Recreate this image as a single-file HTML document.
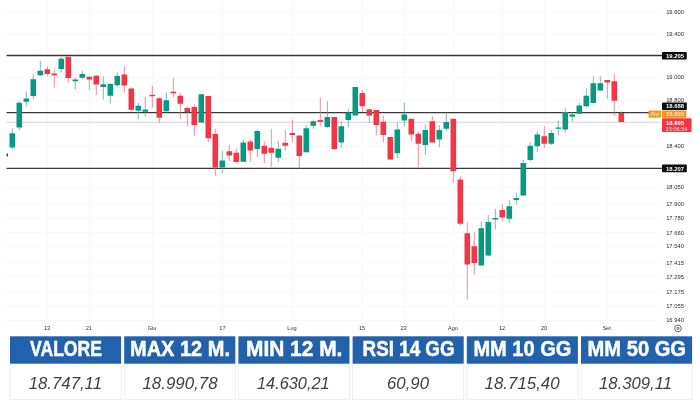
<!DOCTYPE html><html><head><meta charset="utf-8"><title>Chart</title>
<style>html,body{margin:0;padding:0;background:#fff;}body{width:700px;height:400px;overflow:hidden;}svg{display:block;}text{font-family:"Liberation Sans",sans-serif;}</style></head><body>
<svg width="700" height="400" viewBox="0 0 700 400">
<rect width="700" height="400" fill="#ffffff"/>
<g stroke="#f8f8f8" stroke-width="1" shape-rendering="crispEdges">
<line x1="47" y1="0" x2="47" y2="322"/>
<line x1="89" y1="0" x2="89" y2="322"/>
<line x1="152" y1="0" x2="152" y2="322"/>
<line x1="222" y1="0" x2="222" y2="322"/>
<line x1="292" y1="0" x2="292" y2="322"/>
<line x1="362" y1="0" x2="362" y2="322"/>
<line x1="404" y1="0" x2="404" y2="322"/>
<line x1="453" y1="0" x2="453" y2="322"/>
<line x1="502" y1="0" x2="502" y2="322"/>
<line x1="544" y1="0" x2="544" y2="322"/>
<line x1="607" y1="0" x2="607" y2="322"/>
<line x1="6" y1="12" x2="660" y2="12"/>
<line x1="6" y1="34" x2="660" y2="34"/>
<line x1="6" y1="77" x2="660" y2="77"/>
<line x1="6" y1="100" x2="660" y2="100"/>
<line x1="6" y1="146" x2="660" y2="146"/>
<line x1="6" y1="187" x2="660" y2="187"/>
<line x1="6" y1="204" x2="660" y2="204"/>
<line x1="6" y1="218" x2="660" y2="218"/>
<line x1="6" y1="232" x2="660" y2="232"/>
<line x1="6" y1="246" x2="660" y2="246"/>
<line x1="6" y1="262" x2="660" y2="262"/>
<line x1="6" y1="276.5" x2="660" y2="276.5"/>
<line x1="6" y1="291.5" x2="660" y2="291.5"/>
<line x1="6" y1="306" x2="660" y2="306"/>
<line x1="6" y1="320" x2="660" y2="320"/>
</g>
<line x1="6.5" y1="122.2" x2="661" y2="122.2" stroke="#d6cdcf" stroke-width="1"/>
<g stroke="#383838" stroke-width="1.3">
<line x1="6.5" y1="55.5" x2="662" y2="55.5"/>
<line x1="6.5" y1="112.7" x2="649" y2="112.7"/>
<line x1="6.5" y1="168.3" x2="662" y2="168.3"/>
</g>
<g>
<rect x="6.5" y="153.5" width="1.5" height="3" fill="#1d5c50"/>
<rect x="11.80" y="128.25" width="1" height="21.00" fill="#4e9a8c" opacity="0.7"/>
<rect x="9.50" y="133.25" width="5.6" height="14.25" fill="#089981"/>
<rect x="18.80" y="101.25" width="1" height="28.75" fill="#4e9a8c" opacity="0.7"/>
<rect x="16.50" y="102.75" width="5.6" height="24.75" fill="#089981"/>
<rect x="25.80" y="91.25" width="1" height="15.00" fill="#4e9a8c" opacity="0.7"/>
<rect x="23.50" y="98.50" width="5.6" height="3.25" fill="#089981"/>
<rect x="32.80" y="74.25" width="1" height="25.00" fill="#4e9a8c" opacity="0.7"/>
<rect x="30.50" y="79.25" width="5.6" height="16.75" fill="#089981"/>
<rect x="39.80" y="60.75" width="1" height="15.50" fill="#4e9a8c" opacity="0.7"/>
<rect x="37.50" y="70.75" width="5.6" height="4.50" fill="#089981"/>
<rect x="46.80" y="66.50" width="1" height="9.75" fill="#e8616d" opacity="0.7"/>
<rect x="44.50" y="69.25" width="5.6" height="4.75" fill="#f23645"/>
<rect x="53.80" y="69.50" width="1" height="18.00" fill="#e8616d" opacity="0.7"/>
<rect x="51.50" y="73.50" width="5.6" height="1.75" fill="#f23645"/>
<rect x="60.80" y="57.00" width="1" height="15.50" fill="#4e9a8c" opacity="0.7"/>
<rect x="58.50" y="58.75" width="5.6" height="10.25" fill="#089981"/>
<rect x="67.80" y="56.75" width="1" height="25.75" fill="#e8616d" opacity="0.7"/>
<rect x="65.50" y="56.75" width="5.6" height="21.25" fill="#f23645"/>
<rect x="74.80" y="77.50" width="1" height="12.00" fill="#4e9a8c" opacity="0.7"/>
<rect x="72.50" y="79.50" width="5.6" height="1.75" fill="#089981"/>
<rect x="81.80" y="70.75" width="1" height="8.00" fill="#4e9a8c" opacity="0.7"/>
<rect x="79.50" y="74.00" width="5.6" height="3.75" fill="#089981"/>
<rect x="88.80" y="76.75" width="1" height="13.25" fill="#e8616d" opacity="0.7"/>
<rect x="86.50" y="76.75" width="5.6" height="2.75" fill="#f23645"/>
<rect x="95.80" y="75.00" width="1" height="20.00" fill="#e8616d" opacity="0.7"/>
<rect x="93.50" y="75.75" width="5.6" height="8.75" fill="#f23645"/>
<rect x="102.80" y="76.25" width="1" height="23.25" fill="#4e9a8c" opacity="0.7"/>
<rect x="100.50" y="84.25" width="5.6" height="2.75" fill="#089981"/>
<rect x="109.80" y="83.00" width="1" height="20.75" fill="#4e9a8c" opacity="0.7"/>
<rect x="107.50" y="84.00" width="5.6" height="11.75" fill="#089981"/>
<rect x="116.80" y="72.50" width="1" height="14.50" fill="#4e9a8c" opacity="0.7"/>
<rect x="114.50" y="76.00" width="5.6" height="9.25" fill="#089981"/>
<rect x="123.80" y="66.25" width="1" height="26.25" fill="#e8616d" opacity="0.7"/>
<rect x="121.50" y="74.50" width="5.6" height="11.00" fill="#f23645"/>
<rect x="130.80" y="87.50" width="1" height="23.75" fill="#e8616d" opacity="0.7"/>
<rect x="128.50" y="88.50" width="5.6" height="21.25" fill="#f23645"/>
<rect x="137.80" y="103.00" width="1" height="16.50" fill="#4e9a8c" opacity="0.7"/>
<rect x="135.50" y="105.75" width="5.6" height="5.00" fill="#089981"/>
<rect x="144.80" y="96.75" width="1" height="19.50" fill="#4e9a8c" opacity="0.7"/>
<rect x="142.50" y="109.50" width="5.6" height="2.25" fill="#089981"/>
<rect x="151.80" y="85.75" width="1" height="21.75" fill="#e8616d" opacity="0.7"/>
<rect x="149.50" y="94.75" width="5.6" height="1.50" fill="#f23645"/>
<rect x="158.80" y="97.50" width="1" height="25.75" fill="#e8616d" opacity="0.7"/>
<rect x="156.50" y="98.25" width="5.6" height="19.50" fill="#f23645"/>
<rect x="165.80" y="92.50" width="1" height="20.00" fill="#4e9a8c" opacity="0.7"/>
<rect x="163.50" y="100.25" width="5.6" height="11.00" fill="#089981"/>
<rect x="172.80" y="77.50" width="1" height="20.00" fill="#e8616d" opacity="0.7"/>
<rect x="170.50" y="91.75" width="5.6" height="1.50" fill="#f23645"/>
<rect x="179.80" y="92.50" width="1" height="26.25" fill="#e8616d" opacity="0.7"/>
<rect x="177.50" y="95.75" width="5.6" height="8.00" fill="#f23645"/>
<rect x="186.80" y="106.25" width="1" height="20.00" fill="#e8616d" opacity="0.7"/>
<rect x="184.50" y="108.00" width="5.6" height="4.00" fill="#f23645"/>
<rect x="193.80" y="104.50" width="1" height="31.00" fill="#e8616d" opacity="0.7"/>
<rect x="191.50" y="107.00" width="5.6" height="18.00" fill="#f23645"/>
<rect x="200.80" y="94.25" width="1" height="28.25" fill="#4e9a8c" opacity="0.7"/>
<rect x="198.50" y="94.25" width="5.6" height="28.25" fill="#089981"/>
<rect x="207.80" y="96.00" width="1" height="46.00" fill="#e8616d" opacity="0.7"/>
<rect x="205.50" y="96.00" width="5.6" height="42.25" fill="#f23645"/>
<rect x="214.80" y="128.75" width="1" height="47.00" fill="#e8616d" opacity="0.7"/>
<rect x="212.50" y="134.00" width="5.6" height="33.50" fill="#f23645"/>
<rect x="221.80" y="150.75" width="1" height="22.25" fill="#4e9a8c" opacity="0.7"/>
<rect x="219.50" y="160.50" width="5.6" height="7.00" fill="#089981"/>
<rect x="228.80" y="144.50" width="1" height="16.75" fill="#e8616d" opacity="0.7"/>
<rect x="226.50" y="151.25" width="5.6" height="4.25" fill="#f23645"/>
<rect x="235.80" y="148.75" width="1" height="15.00" fill="#e8616d" opacity="0.7"/>
<rect x="233.50" y="152.75" width="5.6" height="9.25" fill="#f23645"/>
<rect x="242.80" y="140.00" width="1" height="21.75" fill="#4e9a8c" opacity="0.7"/>
<rect x="240.50" y="142.50" width="5.6" height="19.25" fill="#089981"/>
<rect x="249.80" y="140.00" width="1" height="21.25" fill="#e8616d" opacity="0.7"/>
<rect x="247.50" y="141.50" width="5.6" height="9.00" fill="#f23645"/>
<rect x="256.80" y="129.50" width="1" height="27.50" fill="#4e9a8c" opacity="0.7"/>
<rect x="254.50" y="131.00" width="5.6" height="18.00" fill="#089981"/>
<rect x="263.80" y="141.25" width="1" height="22.00" fill="#e8616d" opacity="0.7"/>
<rect x="261.50" y="145.75" width="5.6" height="8.00" fill="#f23645"/>
<rect x="270.80" y="128.75" width="1" height="38.25" fill="#e8616d" opacity="0.7"/>
<rect x="268.50" y="147.75" width="5.6" height="5.00" fill="#f23645"/>
<rect x="277.80" y="141.25" width="1" height="20.75" fill="#4e9a8c" opacity="0.7"/>
<rect x="275.50" y="148.75" width="5.6" height="9.00" fill="#089981"/>
<rect x="284.80" y="130.00" width="1" height="20.75" fill="#e8616d" opacity="0.7"/>
<rect x="282.50" y="142.75" width="5.6" height="3.00" fill="#f23645"/>
<rect x="291.80" y="119.50" width="1" height="22.50" fill="#e8616d" opacity="0.7"/>
<rect x="289.50" y="133.00" width="5.6" height="2.00" fill="#f23645"/>
<rect x="298.80" y="135.50" width="1" height="33.25" fill="#e8616d" opacity="0.7"/>
<rect x="296.50" y="135.50" width="5.6" height="20.50" fill="#f23645"/>
<rect x="305.80" y="125.00" width="1" height="27.25" fill="#4e9a8c" opacity="0.7"/>
<rect x="303.50" y="128.25" width="5.6" height="24.00" fill="#089981"/>
<rect x="312.80" y="119.50" width="1" height="9.25" fill="#4e9a8c" opacity="0.7"/>
<rect x="310.50" y="121.25" width="5.6" height="4.50" fill="#089981"/>
<rect x="319.80" y="97.50" width="1" height="28.75" fill="#e8616d" opacity="0.7"/>
<rect x="317.50" y="120.00" width="5.6" height="1.75" fill="#f23645"/>
<rect x="326.80" y="101.25" width="1" height="26.75" fill="#4e9a8c" opacity="0.7"/>
<rect x="324.50" y="117.00" width="5.6" height="10.00" fill="#089981"/>
<rect x="333.80" y="117.00" width="1" height="33.00" fill="#e8616d" opacity="0.7"/>
<rect x="331.50" y="117.00" width="5.6" height="32.00" fill="#f23645"/>
<rect x="340.80" y="121.25" width="1" height="26.75" fill="#4e9a8c" opacity="0.7"/>
<rect x="338.50" y="126.25" width="5.6" height="16.25" fill="#089981"/>
<rect x="347.80" y="108.75" width="1" height="18.75" fill="#4e9a8c" opacity="0.7"/>
<rect x="345.50" y="112.50" width="5.6" height="7.50" fill="#089981"/>
<rect x="354.80" y="87.00" width="1" height="28.50" fill="#4e9a8c" opacity="0.7"/>
<rect x="352.50" y="87.00" width="5.6" height="28.50" fill="#089981"/>
<rect x="361.80" y="90.00" width="1" height="22.00" fill="#e8616d" opacity="0.7"/>
<rect x="359.50" y="93.00" width="5.6" height="13.25" fill="#f23645"/>
<rect x="368.80" y="109.25" width="1" height="13.75" fill="#e8616d" opacity="0.7"/>
<rect x="366.50" y="109.25" width="5.6" height="6.25" fill="#f23645"/>
<rect x="375.80" y="110.00" width="1" height="25.50" fill="#e8616d" opacity="0.7"/>
<rect x="373.50" y="110.00" width="5.6" height="15.00" fill="#f23645"/>
<rect x="382.80" y="115.75" width="1" height="26.75" fill="#e8616d" opacity="0.7"/>
<rect x="380.50" y="121.75" width="5.6" height="13.25" fill="#f23645"/>
<rect x="389.80" y="137.00" width="1" height="22.50" fill="#e8616d" opacity="0.7"/>
<rect x="387.50" y="137.00" width="5.6" height="22.50" fill="#f23645"/>
<rect x="396.80" y="122.50" width="1" height="35.50" fill="#4e9a8c" opacity="0.7"/>
<rect x="394.50" y="129.50" width="5.6" height="23.75" fill="#089981"/>
<rect x="403.80" y="102.50" width="1" height="23.75" fill="#4e9a8c" opacity="0.7"/>
<rect x="401.50" y="114.50" width="5.6" height="6.00" fill="#089981"/>
<rect x="410.80" y="118.75" width="1" height="22.50" fill="#e8616d" opacity="0.7"/>
<rect x="408.50" y="118.75" width="5.6" height="15.75" fill="#f23645"/>
<rect x="417.80" y="131.25" width="1" height="36.25" fill="#e8616d" opacity="0.7"/>
<rect x="415.50" y="133.75" width="5.6" height="10.00" fill="#f23645"/>
<rect x="424.80" y="124.50" width="1" height="30.50" fill="#4e9a8c" opacity="0.7"/>
<rect x="422.50" y="130.00" width="5.6" height="15.00" fill="#089981"/>
<rect x="431.80" y="116.25" width="1" height="26.25" fill="#e8616d" opacity="0.7"/>
<rect x="429.50" y="121.25" width="5.6" height="21.25" fill="#f23645"/>
<rect x="438.80" y="125.00" width="1" height="22.50" fill="#4e9a8c" opacity="0.7"/>
<rect x="436.50" y="130.00" width="5.6" height="9.50" fill="#089981"/>
<rect x="445.80" y="112.50" width="1" height="18.75" fill="#4e9a8c" opacity="0.7"/>
<rect x="443.50" y="122.00" width="5.6" height="6.75" fill="#089981"/>
<rect x="452.80" y="118.75" width="1" height="63.75" fill="#e8616d" opacity="0.7"/>
<rect x="450.50" y="118.75" width="5.6" height="52.50" fill="#f23645"/>
<rect x="459.80" y="176.25" width="1" height="49.25" fill="#e8616d" opacity="0.7"/>
<rect x="457.50" y="179.50" width="5.6" height="44.25" fill="#f23645"/>
<rect x="466.80" y="222.50" width="1" height="77.00" fill="#e8616d" opacity="0.7"/>
<rect x="464.50" y="233.25" width="5.6" height="31.25" fill="#f23645"/>
<rect x="473.80" y="232.50" width="1" height="42.00" fill="#e8616d" opacity="0.7"/>
<rect x="471.50" y="246.25" width="5.6" height="16.75" fill="#f23645"/>
<rect x="480.80" y="221.25" width="1" height="44.25" fill="#4e9a8c" opacity="0.7"/>
<rect x="478.50" y="228.25" width="5.6" height="37.25" fill="#089981"/>
<rect x="487.80" y="215.00" width="1" height="41.25" fill="#4e9a8c" opacity="0.7"/>
<rect x="485.50" y="222.00" width="5.6" height="33.50" fill="#089981"/>
<rect x="494.80" y="208.75" width="1" height="20.75" fill="#4e9a8c" opacity="0.7"/>
<rect x="492.50" y="218.00" width="5.6" height="1.50" fill="#089981"/>
<rect x="501.80" y="203.75" width="1" height="17.50" fill="#e8616d" opacity="0.7"/>
<rect x="499.50" y="210.00" width="5.6" height="7.50" fill="#f23645"/>
<rect x="508.80" y="200.00" width="1" height="23.00" fill="#4e9a8c" opacity="0.7"/>
<rect x="506.50" y="206.25" width="5.6" height="12.50" fill="#089981"/>
<rect x="515.80" y="192.50" width="1" height="12.00" fill="#4e9a8c" opacity="0.7"/>
<rect x="513.50" y="198.00" width="5.6" height="2.00" fill="#089981"/>
<rect x="522.80" y="160.00" width="1" height="35.50" fill="#4e9a8c" opacity="0.7"/>
<rect x="520.50" y="163.00" width="5.6" height="32.50" fill="#089981"/>
<rect x="529.80" y="142.50" width="1" height="18.50" fill="#4e9a8c" opacity="0.7"/>
<rect x="527.50" y="145.75" width="5.6" height="14.25" fill="#089981"/>
<rect x="536.80" y="132.00" width="1" height="20.00" fill="#4e9a8c" opacity="0.7"/>
<rect x="534.50" y="134.50" width="5.6" height="11.75" fill="#089981"/>
<rect x="543.80" y="126.25" width="1" height="21.75" fill="#e8616d" opacity="0.7"/>
<rect x="541.50" y="136.25" width="5.6" height="7.50" fill="#f23645"/>
<rect x="550.80" y="130.00" width="1" height="15.00" fill="#4e9a8c" opacity="0.7"/>
<rect x="548.50" y="133.00" width="5.6" height="10.75" fill="#089981"/>
<rect x="557.80" y="120.75" width="1" height="14.25" fill="#4e9a8c" opacity="0.7"/>
<rect x="555.50" y="127.50" width="5.6" height="1.25" fill="#089981"/>
<rect x="564.80" y="108.00" width="1" height="24.50" fill="#4e9a8c" opacity="0.7"/>
<rect x="562.50" y="112.00" width="5.6" height="17.50" fill="#089981"/>
<rect x="571.80" y="112.00" width="1" height="9.25" fill="#4e9a8c" opacity="0.7"/>
<rect x="569.50" y="114.50" width="5.6" height="2.25" fill="#089981"/>
<rect x="578.80" y="103.00" width="1" height="10.75" fill="#4e9a8c" opacity="0.7"/>
<rect x="576.50" y="105.50" width="5.6" height="8.25" fill="#089981"/>
<rect x="585.80" y="88.25" width="1" height="19.25" fill="#4e9a8c" opacity="0.7"/>
<rect x="583.50" y="95.75" width="5.6" height="10.50" fill="#089981"/>
<rect x="592.80" y="76.25" width="1" height="26.75" fill="#4e9a8c" opacity="0.7"/>
<rect x="590.50" y="83.25" width="5.6" height="19.75" fill="#089981"/>
<rect x="599.80" y="76.25" width="1" height="14.25" fill="#4e9a8c" opacity="0.7"/>
<rect x="597.50" y="83.25" width="5.6" height="7.25" fill="#089981"/>
<rect x="606.80" y="80.00" width="1" height="18.75" fill="#e8616d" opacity="0.7"/>
<rect x="604.50" y="80.00" width="5.6" height="2.50" fill="#f23645"/>
<rect x="613.80" y="73.75" width="1" height="41.75" fill="#e8616d" opacity="0.7"/>
<rect x="611.50" y="81.25" width="5.6" height="19.50" fill="#f23645"/>
<rect x="620.80" y="111.25" width="1" height="10.75" fill="#e8616d" opacity="0.7"/>
<rect x="618.50" y="113.00" width="5.6" height="9.00" fill="#f23645"/>
</g>
<g font-size="5.8" fill="#2a2a2a" text-anchor="middle">
<text x="675" y="14.1">19.600</text>
<text x="675" y="36.1">19.400</text>
<text x="675" y="79.1">19.000</text>
<text x="675" y="102.1">18.800</text>
<text x="675" y="147.8">18.400</text>
<text x="675" y="188.7">18.050</text>
<text x="675" y="206.1">17.900</text>
<text x="675" y="219.7">17.780</text>
<text x="675" y="234.5">17.660</text>
<text x="675" y="248.1">17.540</text>
<text x="675" y="264.5">17.415</text>
<text x="675" y="278.7">17.295</text>
<text x="675" y="293.7">17.175</text>
<text x="675" y="308.1">17.055</text>
<text x="675" y="321.9">16.940</text>
</g>
<rect x="662" y="52" width="24.8" height="7.6" rx="0.8" fill="#0a0a0a"/>
<text x="675" y="58" font-size="5.9" font-weight="bold" fill="#fff" text-anchor="middle">19.205</text>
<rect x="662" y="102.4" width="24.8" height="7.6" rx="0.8" fill="#0a0a0a"/>
<text x="675" y="108.3" font-size="5.9" font-weight="bold" fill="#fff" text-anchor="middle">18.688</text>
<rect x="648.5" y="110.4" width="12.6" height="7.4" rx="0.8" fill="#f59a1c"/>
<text x="654.8" y="116.2" font-size="5.4" font-style="italic" fill="#fff3dd" text-anchor="middle">Pre</text>
<rect x="662" y="110.4" width="24.4" height="7.4" rx="0.8" fill="#f7931a"/>
<text x="675" y="116.3" font-size="5.9" font-weight="bold" fill="#ffe9c4" text-anchor="middle">18.605</text>
<rect x="662" y="118.3" width="29.6" height="13.8" rx="0.8" fill="#f23645"/>
<text x="675" y="124.6" font-size="5.9" font-weight="bold" fill="#fff" text-anchor="middle">18.605</text>
<text x="676.5" y="130.6" font-size="5.6" fill="#ffd5d9" text-anchor="middle">15:06:54</text>
<rect x="662" y="164.6" width="24.8" height="7.6" rx="0.8" fill="#0a0a0a"/>
<text x="675" y="170.5" font-size="5.9" font-weight="bold" fill="#fff" text-anchor="middle">18.207</text>
<g font-size="5.6" fill="#333" text-anchor="middle">
<text x="47" y="330.3">13</text>
<text x="88.8" y="330.3">21</text>
<text x="152" y="330.3">Giu</text>
<text x="222.4" y="330.3">17</text>
<text x="292" y="330.3">Lug</text>
<text x="362" y="330.3">15</text>
<text x="403.6" y="330.3">23</text>
<text x="453" y="330.3">Ago</text>
<text x="502" y="330.3">12</text>
<text x="544" y="330.3">20</text>
<text x="606.6" y="330.3">Set</text>
</g>
<g fill="none" stroke="#444" stroke-width="0.8"><circle cx="678" cy="328.4" r="3.3"/><circle cx="678" cy="328.4" r="1.1"/></g>
<rect x="10.0" y="364" width="111.1" height="35.5" fill="#ffffff" stroke="#efefef" stroke-width="1"/>
<rect x="10.0" y="336.3" width="111.1" height="27.4" fill="#2262ad"/>
<text x="30" y="356.4" font-size="21.3" font-weight="bold" fill="#ffffff" stroke="#ffffff" stroke-width="0.5" textLength="72" lengthAdjust="spacingAndGlyphs">VALORE</text>
<text x="28.75" y="389.3" font-size="17.3" font-style="italic" fill="#404040" textLength="73.25" lengthAdjust="spacingAndGlyphs">18.747,11</text>
<rect x="124.2" y="364" width="111.1" height="35.5" fill="#ffffff" stroke="#efefef" stroke-width="1"/>
<rect x="124.2" y="336.3" width="111.1" height="27.4" fill="#2262ad"/>
<text x="130" y="356.4" font-size="21.3" font-weight="bold" fill="#ffffff" stroke="#ffffff" stroke-width="0.5" textLength="100" lengthAdjust="spacingAndGlyphs">MAX 12 M.</text>
<text x="142.4" y="389.3" font-size="17.3" font-style="italic" fill="#404040" textLength="75.2" lengthAdjust="spacingAndGlyphs">18.990,78</text>
<rect x="238.4" y="364" width="111.1" height="35.5" fill="#ffffff" stroke="#efefef" stroke-width="1"/>
<rect x="238.4" y="336.3" width="111.1" height="27.4" fill="#2262ad"/>
<text x="246" y="356.4" font-size="21.3" font-weight="bold" fill="#ffffff" stroke="#ffffff" stroke-width="0.5" textLength="96.4" lengthAdjust="spacingAndGlyphs">MIN 12 M.</text>
<text x="257" y="389.3" font-size="17.3" font-style="italic" fill="#404040" textLength="72.6" lengthAdjust="spacingAndGlyphs">14.630,21</text>
<rect x="352.6" y="364" width="111.1" height="35.5" fill="#ffffff" stroke="#efefef" stroke-width="1"/>
<rect x="352.6" y="336.3" width="111.1" height="27.4" fill="#2262ad"/>
<text x="362.6" y="356.4" font-size="21.3" font-weight="bold" fill="#ffffff" stroke="#ffffff" stroke-width="0.5" textLength="92" lengthAdjust="spacingAndGlyphs">RSI 14 GG</text>
<text x="387" y="389.3" font-size="17.3" font-style="italic" fill="#404040" textLength="42" lengthAdjust="spacingAndGlyphs">60,90</text>
<rect x="466.8" y="364" width="111.1" height="35.5" fill="#ffffff" stroke="#efefef" stroke-width="1"/>
<rect x="466.8" y="336.3" width="111.1" height="27.4" fill="#2262ad"/>
<text x="473.4" y="356.4" font-size="21.3" font-weight="bold" fill="#ffffff" stroke="#ffffff" stroke-width="0.5" textLength="98" lengthAdjust="spacingAndGlyphs">MM 10 GG</text>
<text x="484.6" y="389.3" font-size="17.3" font-style="italic" fill="#404040" textLength="75" lengthAdjust="spacingAndGlyphs">18.715,40</text>
<rect x="581.0" y="364" width="111.1" height="35.5" fill="#ffffff" stroke="#efefef" stroke-width="1"/>
<rect x="581.0" y="336.3" width="111.1" height="27.4" fill="#2262ad"/>
<text x="587.6" y="356.4" font-size="21.3" font-weight="bold" fill="#ffffff" stroke="#ffffff" stroke-width="0.5" textLength="98.4" lengthAdjust="spacingAndGlyphs">MM 50 GG</text>
<text x="599" y="389.3" font-size="17.3" font-style="italic" fill="#404040" textLength="73" lengthAdjust="spacingAndGlyphs">18.309,11</text>
</svg></body></html>
